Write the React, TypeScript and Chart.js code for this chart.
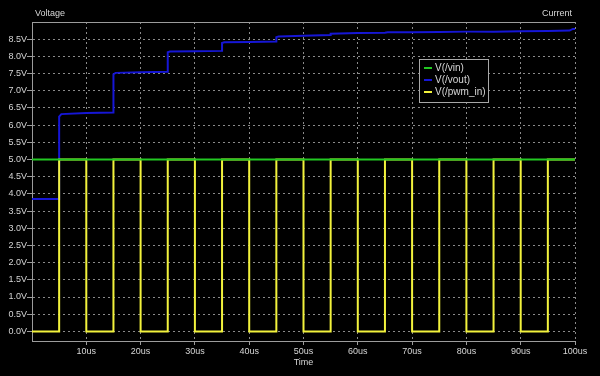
import { useEffect, useRef } from 'react';
import { Chart, registerables } from 'chart.js';

Chart.register(...registerables);

// ---- data ----
const xTickValues = [10, 20, 30, 40, 50, 60, 70, 80, 90, 100];
const yTickValues = [0, 0.5, 1, 1.5, 2, 2.5, 3, 3.5, 4, 4.5, 5, 5.5, 6, 6.5, 7, 7.5, 8, 8.5];

const vinT = [0, 100];
const vinV = [5.0, 5.0];

const voutT = [0, 5, 5, 5.4, 10, 15, 15, 15.4, 20, 25, 25, 25.4, 30, 35, 35, 35.4, 40, 45, 45, 45.4, 50, 55, 55, 60, 65, 65.5, 70, 75, 80, 85, 90, 95, 99, 99.6, 100];
const voutV = [3.85, 3.85, 6.25, 6.32, 6.35, 6.37, 7.48, 7.52, 7.54, 7.55, 8.12, 8.14, 8.15, 8.16, 8.39, 8.41, 8.42, 8.43, 8.56, 8.58, 8.6, 8.62, 8.66, 8.68, 8.69, 8.7, 8.7, 8.71, 8.72, 8.72, 8.73, 8.74, 8.75, 8.8, 8.8];

const pwmT = [0, 5, 10, 15, 20, 25, 30, 35, 40, 45, 50, 55, 60, 65, 70, 75, 80, 85, 90, 95, 100];
const pwmV = [0, 5, 0, 5, 0, 5, 0, 5, 0, 5, 0, 5, 0, 5, 0, 5, 0, 5, 0, 5, 5];

const seriesNames = ['V(/vin)', 'V(/vout)', 'V(/pwm_in)'];
const seriesColors = ['#22c822', '#1616d6', '#f2f23c'];

const FONT = '"Liberation Sans", Arial, sans-serif';
const TEXT = '#d6d6d6';
const GRID = '#8a8a8a';
const AXIS = '#9c9c9c';

const toXY = (t: number[], v: number[]) => t.map((x, i) => ({ x, y: v[i] }));

const overlay = {
  id: 'overlay',
  afterDraw(chart: any) {
    const { ctx, chartArea } = chart;
    ctx.save();
    // top frame line
    ctx.strokeStyle = AXIS;
    ctx.lineWidth = 1;
    ctx.setLineDash([]);
    ctx.beginPath();
    ctx.moveTo(chartArea.left, Math.round(chartArea.top) + 0.5);
    ctx.lineTo(chartArea.right, Math.round(chartArea.top) + 0.5);
    ctx.stroke();

    // titles
    ctx.fillStyle = TEXT;
    ctx.font = `9px ${FONT}`;
    ctx.textBaseline = 'middle';
    ctx.textAlign = 'left';
    ctx.fillText('Voltage', 35, 14);
    ctx.textAlign = 'right';
    ctx.fillText('Current', 572, 14);
    ctx.textAlign = 'center';
    ctx.fillText('Time', (chartArea.left + chartArea.right) / 2, 363);

    // legend
    const bx = 419.5, by = 59.5, bw = 69, bh = 43;
    ctx.fillStyle = '#000';
    ctx.fillRect(bx, by, bw, bh);
    ctx.strokeStyle = '#a8a8a8';
    ctx.strokeRect(bx, by, bw, bh);
    ctx.font = `10px ${FONT}`;
    ctx.textAlign = 'left';
    chart.data.datasets.forEach((ds: any, i: number) => {
      const y = 68 + i * 12;
      ctx.strokeStyle = ds.borderColor;
      ctx.lineWidth = 2;
      ctx.beginPath();
      ctx.moveTo(424, y);
      ctx.lineTo(432, y);
      ctx.stroke();
      ctx.fillStyle = TEXT;
      ctx.fillText(ds.label, 435, y);
    });
    ctx.restore();
  },
};

export default function App() {
  const ref = useRef<HTMLCanvasElement>(null);
  useEffect(() => {
    const chart = new Chart(ref.current!, {
      type: 'line',
      data: {
        datasets: [
          {
            label: seriesNames[0],
            data: toXY(vinT, vinV),
            borderColor: seriesColors[0],
            borderWidth: 2,
            pointRadius: 0,
            order: 0,
          },
          {
            label: seriesNames[1],
            data: toXY(voutT, voutV),
            borderColor: seriesColors[1],
            borderWidth: 2,
            pointRadius: 0,
            order: 2,
          },
          {
            label: seriesNames[2],
            data: toXY(pwmT, pwmV),
            borderColor: seriesColors[2],
            borderWidth: 2,
            pointRadius: 0,
            stepped: 'before',
            order: 1,
          },
        ],
      } as any,
      options: {
        responsive: false,
        animation: false,
        parsing: false,
        layout: { padding: { top: 22, right: 25, left: 0, bottom: 0 } },
        plugins: { legend: { display: false }, title: { display: false }, tooltip: { enabled: false } },
        elements: { line: { tension: 0, borderCapStyle: 'butt', borderJoinStyle: 'miter' } },
        scales: {
          x: {
            type: 'linear',
            min: 0,
            max: 100,
            afterBuildTicks: (s: any) => {
              s.ticks = xTickValues.map((v) => ({ value: v }));
            },
            afterFit: (s: any) => {
              s.height = 35;
            },
            ticks: {
              color: TEXT,
              font: { family: FONT, size: 9 },
              padding: 1,
              maxRotation: 0,
              autoSkip: false,
              callback: (v: any) => `${v}us`,
            },
            grid: { color: GRID, tickLength: 4, tickColor: AXIS },
            border: { color: AXIS, dash: [2, 3] },
          },
          y: {
            type: 'linear',
            min: -0.28,
            max: 9.0,
            afterBuildTicks: (s: any) => {
              s.ticks = yTickValues.map((v) => ({ value: v }));
            },
            afterFit: (s: any) => {
              s.width = 32;
            },
            ticks: {
              color: TEXT,
              font: { family: FONT, size: 9 },
              padding: 0,
              autoSkip: false,
              callback: (v: any) => `${Number(v).toFixed(1)}V`,
            },
            grid: { color: GRID, tickLength: 5, tickColor: AXIS },
            border: { color: AXIS, dash: [2, 3] },
          },
        },
      } as any,
      plugins: [overlay],
    });
    return () => chart.destroy();
  }, []);
  return (
    <div style={{ position: 'fixed', left: 0, top: 0, width: 600, height: 376, background: '#000' }}>
      <canvas ref={ref} width={600} height={376} style={{ display: 'block' }} />
    </div>
  );
}
